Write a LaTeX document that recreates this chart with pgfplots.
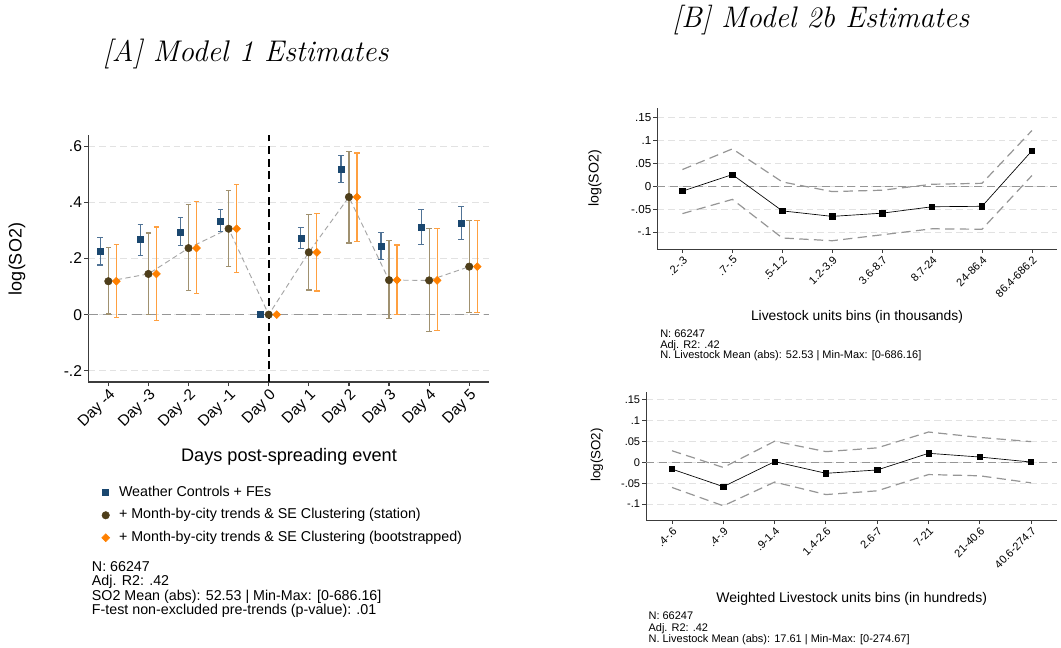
\documentclass[border=0pt]{standalone}
\usepackage{fontspec}
\setsansfont{Liberation Sans}
\usepackage{pgfplots}
\pgfplotsset{compat=1.18}
\usepackage{pgfplotstable}

\definecolor{sblue}{RGB}{26,71,111}
\definecolor{sbluebar}{RGB}{80,115,150}
\definecolor{sbrown}{RGB}{78,62,26}
\definecolor{sbrownbar}{RGB}{160,145,112}
\definecolor{sorange}{RGB}{255,128,0}
\definecolor{sorangebar}{RGB}{255,160,64}
\definecolor{axgray}{RGB}{60,60,60}
\definecolor{gridgray}{RGB}{226,226,226}
\definecolor{zerogray}{RGB}{150,150,150}
\definecolor{cigray}{RGB}{150,150,150}

% Panel A series: x, estimate, plus, minus
\pgfplotstableread{
x y ep em
-0.2 0.224 0.050 0.047
0.8 0.267 0.055 0.055
1.8 0.294 0.051 0.049
2.8 0.333 0.041 0.038
3.8 0.000 0.000 0.000
4.8 0.273 0.038 0.038
5.8 0.517 0.049 0.046
6.8 0.243 0.050 0.047
7.8 0.311 0.063 0.062
8.8 0.325 0.060 0.056
}\tabBlue
\pgfplotstableread{
x y ep em
0 0.119 0.119 0.117
1 0.145 0.146 0.145
2 0.237 0.154 0.152
3 0.306 0.136 0.134
4 0.000 0.000 0.000
5 0.222 0.134 0.134
6 0.419 0.163 0.164
7 0.123 0.141 0.138
8 0.122 0.186 0.182
9 0.171 0.165 0.164
}\tabBrown
\pgfplotstableread{
x y ep em
0.2 0.119 0.130 0.130
1.2 0.145 0.167 0.166
2.2 0.237 0.166 0.163
3.2 0.306 0.159 0.157
4.2 0.000 0.000 0.000
5.2 0.222 0.137 0.138
6.2 0.419 0.157 0.158
7.2 0.123 0.125 0.122
8.2 0.122 0.184 0.179
9.2 0.171 0.165 0.163
}\tabOrange
% Panel B top
\pgfplotstableread{
x y hi lo
0 -0.011 0.036 -0.060
1 0.025 0.081 -0.029
2 -0.054 0.009 -0.113
3 -0.066 -0.012 -0.119
4 -0.059 -0.009 -0.106
5 -0.045 0.004 -0.093
6 -0.044 0.006 -0.094
7 0.077 0.121 0.023
}\tabBtop
% Panel B bottom
\pgfplotstableread{
x y hi lo
0 -0.016 0.028 -0.060
1 -0.058 -0.012 -0.104
2 0.002 0.051 -0.047
3 -0.026 0.026 -0.077
4 -0.018 0.035 -0.068
5 0.022 0.073 -0.029
6 0.013 0.060 -0.032
7 0.001 0.050 -0.049
}\tabBbot

\begin{document}
\begin{tikzpicture}
\path[use as bounding box] (0,0) rectangle (795.75pt,485.25pt);

% ---------------- Panel A ----------------
\begin{axis}[
  at={(66.2pt,198.75pt)}, anchor=south west,
  scale only axis, width=300.75pt, height=185.25pt,
  xmin=-0.5, xmax=9.5, ymin=-0.24, ymax=0.64,
  axis lines*=left, axis line style={-, draw=axgray, line width=0.9pt},
  tick align=outside, major tick length=3pt,
  tick style={draw=axgray, line width=0.9pt},
  xtick={0,...,9},
  xticklabels={Day -4,Day -3,Day -2,Day -1,Day 0,Day 1,Day 2,Day 3,Day 4,Day 5},
  xticklabel style={rotate=45, anchor=north east, inner sep=1pt, font=\sffamily\fontsize{11.5}{13}\selectfont},
  ytick={-0.2,0,0.2,0.4,0.6}, yticklabels={-.2,0,.2,.4,.6},
  yticklabel style={inner sep=1.5pt, font=\sffamily\fontsize{11.7}{13}\selectfont},
  ymajorgrids, grid style={draw=gridgray, dash pattern=on 5pt off 3pt, line width=0.8pt},
  clip=false,
  legend style={at={(0.033,-0.42)}, anchor=north west, draw=none, fill=none,
    font=\sffamily\fontsize{10.7}{12}\selectfont, row sep=6.8pt,
    inner xsep=0pt, inner ysep=0pt,
    nodes={inner xsep=2pt, inner ysep=0pt, text height=7.8pt, text depth=2.3pt},
    /tikz/every odd column/.append style={column sep=5pt}},
  legend cell align=left,
  legend image code/.code={\draw[#1] plot coordinates {(4pt,0pt)};},
]
\addplot[forget plot, draw=zerogray, line width=1pt, dash pattern=on 7pt off 4pt] coordinates {(-0.5,0) (9.5,0)};
\addplot[forget plot, draw=black, line width=1.3pt, dash pattern=on 6pt off 3.5pt] coordinates {(4,-0.24) (4,0.64)};
\addplot[forget plot, draw=gray!70, line width=0.7pt, dash pattern=on 4pt off 2.5pt] table[x=x,y=y] {\tabBrown};

\addplot[only marks, mark=square*, mark size=2.25pt, color=sblue,
  error bars/.cd, y dir=both, y explicit,
  error bar style={draw=sbluebar, line width=0.9pt},
  error mark options={rotate=90, draw=sbluebar, mark size=2.1pt, line width=0.9pt}]
  table[x=x, y=y, y error plus=ep, y error minus=em] {\tabBlue};
\addlegendentry{Weather Controls + FEs}

\addplot[only marks, mark=*, mark size=2.8pt, color=sbrown,
  error bars/.cd, y dir=both, y explicit,
  error bar style={draw=sbrownbar, line width=0.9pt},
  error mark options={rotate=90, draw=sbrownbar, mark size=2.1pt, line width=0.9pt}]
  table[x=x, y=y, y error plus=ep, y error minus=em] {\tabBrown};
\addlegendentry{+ Month-by-city trends \& SE Clustering (station)}

\addplot[only marks, mark=square*, mark size=2.1pt, mark options={rotate=45}, color=sorange,
  error bars/.cd, y dir=both, y explicit,
  error bar style={draw=sorangebar, line width=0.9pt},
  error mark options={rotate=90, draw=sorangebar, mark size=2.1pt, line width=0.9pt}]
  table[x=x, y=y, y error plus=ep, y error minus=em] {\tabOrange};
\addlegendentry{+ Month-by-city trends \& SE Clustering (bootstrapped)}
\end{axis}

% ---------------- Panel B top ----------------
\begin{axis}[
  at={(493.1pt,298.5pt)}, anchor=south west,
  scale only axis, width=299.6pt, height=105.75pt,
  xmin=-0.5, xmax=7.5, ymin=-0.137, ymax=0.17,
  axis lines*=left, axis line style={-, draw=axgray, line width=0.7pt},
  tick align=outside, major tick length=3pt,
  tick style={draw=axgray, line width=0.7pt},
  xtick={0,...,7},
  xticklabels={.2-.3,.7-.5,.5-1.2,1.2-3.9,3.6-8.7,8.7-24,24-86.4,86.4-686.2},
  xticklabel style={rotate=45, anchor=north east, inner sep=1pt, font=\sffamily\fontsize{8.3}{10}\selectfont},
  ytick={-0.1,-0.05,0,0.05,0.1,0.15}, yticklabels={-.1,-.05,0,.05,.1,.15},
  yticklabel style={inner sep=1.5pt, font=\sffamily\fontsize{8.7}{10}\selectfont},
  ymajorgrids, grid style={draw=gridgray, dash pattern=on 5pt off 3pt, line width=0.7pt},
  clip=false,
]
\addplot[draw=zerogray, line width=0.8pt, dash pattern=on 6pt off 3.5pt] coordinates {(-0.5,0) (7.5,0)};
\addplot[draw=cigray, line width=0.9pt, dash pattern=on 7pt off 4pt] table[x=x,y=hi] {\tabBtop};
\addplot[draw=cigray, line width=0.9pt, dash pattern=on 7pt off 4pt] table[x=x,y=lo] {\tabBtop};
\addplot[draw=black, line width=0.5pt, mark=square*, mark size=2pt, mark options={fill=black}] table[x=x,y=y] {\tabBtop};
\end{axis}

% ---------------- Panel B bottom ----------------
\begin{axis}[
  at={(484.8pt,95.25pt)}, anchor=south west,
  scale only axis, width=307.8pt, height=96pt,
  xmin=-0.5, xmax=7.5, ymin=-0.138, ymax=0.169,
  axis lines*=left, axis line style={-, draw=axgray, line width=0.7pt},
  tick align=outside, major tick length=3pt,
  tick style={draw=axgray, line width=0.7pt},
  xtick={0,...,7},
  xticklabels={.4-.6,.4-.9,.9-1.4,1.4-2.6,2.6-7,7-21,21-40.6,40.6-274.7},
  xticklabel style={rotate=45, anchor=north east, inner sep=1pt, font=\sffamily\fontsize{8.3}{10}\selectfont},
  ytick={-0.1,-0.05,0,0.05,0.1,0.15}, yticklabels={-.1,-.05,0,.05,.1,.15},
  yticklabel style={inner sep=1.5pt, font=\sffamily\fontsize{8.3}{10}\selectfont},
  ymajorgrids, grid style={draw=gridgray, dash pattern=on 5pt off 3pt, line width=0.7pt},
  clip=false,
]
\addplot[draw=zerogray, line width=0.8pt, dash pattern=on 6pt off 3.5pt] coordinates {(-0.5,0) (7.5,0)};
\addplot[draw=cigray, line width=0.9pt, dash pattern=on 7pt off 4pt] table[x=x,y=hi] {\tabBbot};
\addplot[draw=cigray, line width=0.9pt, dash pattern=on 7pt off 4pt] table[x=x,y=lo] {\tabBbot};
\addplot[draw=black, line width=0.5pt, mark=square*, mark size=2pt, mark options={fill=black}] table[x=x,y=y] {\tabBbot};
\end{axis}

% ---------------- Texts (pixel coordinates, origin top-left) ----------------
\begin{scope}[shift={(0pt,485.25pt)}, x=0.75pt, y=-0.75pt]
\node[anchor=base, inner sep=0pt, font=\fontsize{22.4}{27}\selectfont\itshape] at (245.7,61.7) {[A] Model 1 Estimates};
\node[anchor=base, inner sep=0pt, font=\fontsize{22.3}{27}\selectfont\itshape] at (820.8,27.5) {[B] Model 2b Estimates};

\node[rotate=90, inner sep=0pt, font=\sffamily\fontsize{13.5}{15}\selectfont] at (17,259) {log(SO2)};
\node[inner sep=0pt, font=\sffamily\fontsize{13.6}{15}\selectfont] at (289,457) {Days post-spreading event};
\node[anchor=north west, align=left, inner sep=0pt, font=\sffamily\fontsize{10.7}{10.65}\selectfont] at (91.7,561.5)
  {N: 66247\\Adj. R2: .42\\SO2 Mean (abs): 52.53 | Min-Max: [0-686.16]\\F-test non-excluded pre-trends (p-value): .01};

\node[rotate=90, inner sep=0pt, font=\sffamily\fontsize{10.6}{12}\selectfont] at (595,178.5) {log(SO2)};
\node[inner sep=0pt, font=\sffamily\fontsize{10.4}{12}\selectfont] at (857,316.7) {Livestock units bins (in thousands)};
\node[anchor=north west, align=left, inner sep=0pt, font=\sffamily\fontsize{8.25}{8.1}\selectfont] at (660,329.3)
  {N: 66247\\Adj. R2: .42\\N. Livestock Mean (abs): 52.53 | Min-Max: [0-686.16]};

\node[rotate=90, inner sep=0pt, font=\sffamily\fontsize{10}{12}\selectfont] at (597,455) {log(SO2)};
\node[inner sep=0pt, font=\sffamily\fontsize{10.5}{12}\selectfont] at (851.7,599.3) {Weighted Livestock units bins (in hundreds)};
\node[anchor=north west, align=left, inner sep=0pt, font=\sffamily\fontsize{8.25}{8.75}\selectfont] at (648.3,611.7)
  {N: 66247\\Adj. R2: .42\\N. Livestock Mean (abs): 17.61 | Min-Max: [0-274.67]};
\end{scope}
\end{tikzpicture}
\end{document}
